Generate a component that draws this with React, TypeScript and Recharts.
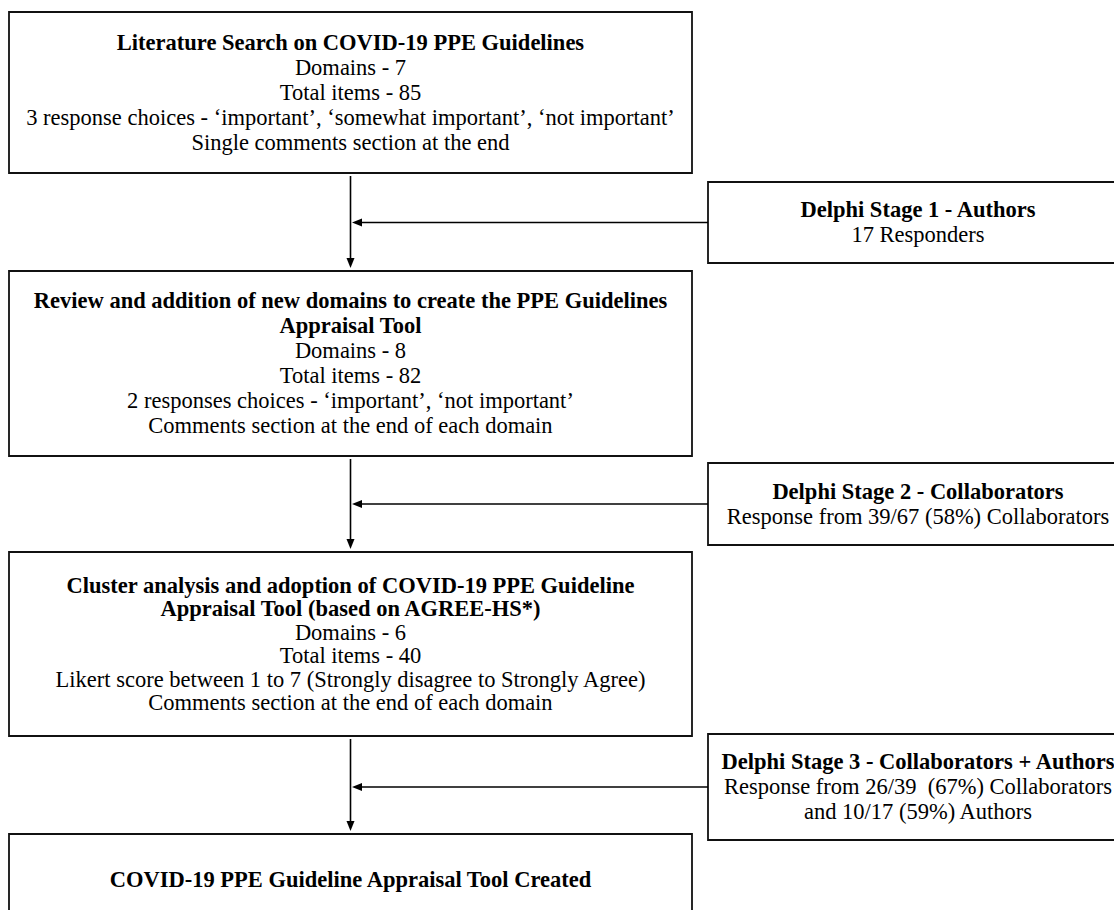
import React from 'react';
import { ComposedChart, XAxis, YAxis, ReferenceArea, ReferenceLine, Scatter } from 'recharts';

// Flow stages (left column)
const stageTitles = [
  ['Literature Search on COVID-19 PPE Guidelines'],
  ['Review and addition of new domains to create the PPE Guidelines', 'Appraisal Tool'],
  ['Cluster analysis and adoption of COVID-19 PPE Guideline', 'Appraisal Tool (based on AGREE-HS*)'],
];
const stageDomains = [7, 8, 6];
const stageItems = [85, 82, 40];
const stageScales = [
  '3 response choices - \u2018important\u2019, \u2018somewhat important\u2019, \u2018not important\u2019',
  '2 responses choices - \u2018important\u2019, \u2018not important\u2019',
  'Likert score between 1 to 7 (Strongly disagree to Strongly Agree)',
];
const stageComments = [
  'Single comments section at the end',
  'Comments section at the end of each domain',
  'Comments section at the end of each domain',
];
const finalStage = 'COVID-19 PPE Guideline Appraisal Tool Created';

// Delphi rounds (right column)
const delphiTitles = [
  'Delphi Stage 1 - Authors',
  'Delphi Stage 2 - Collaborators',
  'Delphi Stage 3 - Collaborators + Authors',
];
const delphiResponses = [
  ['17 Responders'],
  ['Response from 39/67 (58%) Collaborators'],
  ['Response from 26/39  (67%) Collaborators', 'and 10/17 (59%) Authors'],
];

// Layout in page pixels (y grows downwards)
const W = 1114;
const H = 910;
const FONT = 22.5;
const mainX = [9, 692];
const mainY = [[12, 173], [271, 456], [552, 736], [834, 925]];
const mainGap = [25, 25, 23.5, 25];
const sideX = [708, 1128];
const sideY = [[182, 263], [463, 545], [734, 840]];
const sideGap = 25;
const flowX = 350.5;

type Line = { text: string; bold?: boolean };

const mainLines: Line[][] = stageTitles.map((title, i) => [
  ...title.map((t) => ({ text: t, bold: true })),
  { text: `Domains - ${stageDomains[i]}` },
  { text: `Total items - ${stageItems[i]}` },
  { text: stageScales[i] },
  { text: stageComments[i] },
]);
mainLines.push([{ text: finalStage, bold: true }]);

const sideLines: Line[][] = delphiTitles.map((t, i) => [
  { text: t, bold: true },
  ...delphiResponses[i].map((r) => ({ text: r })),
]);

// y of each block = its first line, so the block is centred in its box
const textData = [
  ...mainLines.map((lines, i) => ({
    x: (mainX[0] + mainX[1]) / 2,
    y: (mainY[i][0] + mainY[i][1]) / 2 - ((lines.length - 1) * mainGap[i]) / 2,
    lines,
    gap: mainGap[i],
  })),
  ...sideLines.map((lines, i) => ({
    x: (sideX[0] + sideX[1]) / 2,
    y: (sideY[i][0] + sideY[i][1]) / 2 - ((lines.length - 1) * sideGap) / 2,
    lines,
    gap: sideGap,
  })),
];

const TextBlock = (props: any) => {
  const { cx, cy, payload } = props;
  return (
    <g>
      {payload.lines.map((l: Line, i: number) => (
        <text
          key={i}
          x={cx}
          y={cy + i * payload.gap + FONT * 0.33}
          textAnchor="middle"
          fontSize={FONT}
          fontWeight={l.bold ? 700 : 400}
          fontFamily="'Liberation Serif', 'Times New Roman', serif"
          fill="#000"
          style={{ whiteSpace: 'pre' }}
        >
          {l.text}
        </text>
      ))}
    </g>
  );
};

const Arrow = (props: any) => {
  const { x1, y1, x2, y2 } = props;
  const ang = Math.atan2(y2 - y1, x2 - x1);
  const len = 10;
  const half = 4;
  const bx = x2 - len * Math.cos(ang);
  const by = y2 - len * Math.sin(ang);
  const px = -Math.sin(ang) * half;
  const py = Math.cos(ang) * half;
  return (
    <g>
      <line x1={x1} y1={y1} x2={bx} y2={by} stroke="#000" strokeWidth={1.6} />
      <polygon points={`${x2},${y2} ${bx + px},${by + py} ${bx - px},${by - py}`} fill="#000" />
    </g>
  );
};

const vArrows = [0, 1, 2].map((i) => [
  { x: flowX, y: mainY[i][1] + 3 },
  { x: flowX, y: mainY[i + 1][0] - 3 },
]);
const hArrows = sideY.map(([a, b]) => [
  { x: sideX[0], y: (a + b) / 2 },
  { x: flowX + 1.5, y: (a + b) / 2 },
]);

export default function App() {
  return (
    <div style={{ position: 'absolute', left: 0, top: 0, width: W, height: H, background: '#fff', overflow: 'hidden' }}>
      <ComposedChart width={W} height={H} data={textData} margin={{ top: 0, right: 0, bottom: 0, left: 0 }}>
        <XAxis type="number" dataKey="x" domain={[0, W]} allowDataOverflow hide />
        <YAxis type="number" dataKey="y" domain={[0, H]} allowDataOverflow reversed hide />
        {mainY.map(([a, b], i) => (
          <ReferenceArea
            key={`m${i}`}
            x1={mainX[0]}
            x2={mainX[1]}
            y1={a}
            y2={b}
            fill="#fff"
            fillOpacity={1}
            stroke="#111"
            strokeWidth={1.8}
            ifOverflow="visible"
          />
        ))}
        {sideY.map(([a, b], i) => (
          <ReferenceArea
            key={`s${i}`}
            x1={sideX[0]}
            x2={sideX[1]}
            y1={a}
            y2={b}
            fill="#fff"
            fillOpacity={1}
            stroke="#111"
            strokeWidth={1.8}
            ifOverflow="visible"
          />
        ))}
        {[...vArrows, ...hArrows].map((seg, i) => (
          <ReferenceLine key={`a${i}`} segment={seg} ifOverflow="visible" shape={Arrow} />
        ))}
        <Scatter dataKey="y" data={textData} shape={TextBlock} isAnimationActive={false} legendType="none" />
      </ComposedChart>
    </div>
  );
}
